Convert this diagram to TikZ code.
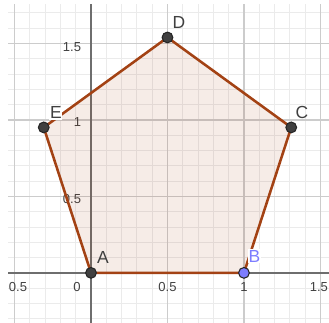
\documentclass[tikz,border=0pt]{standalone}
\usepackage{fontspec}
\setmainfont{Liberation Sans}
\usetikzlibrary{calc}
\definecolor{polybrown}{RGB}{163,66,20}
\definecolor{ptgray}{RGB}{64,64,64}
\definecolor{ptblue}{RGB}{125,125,255}
\definecolor{axgray}{RGB}{110,110,110}
\definecolor{txtgray}{RGB}{64,64,64}

\begin{document}
\begin{tikzpicture}[x=4cm,y=4cm,
  minorgrid/.style={draw=black!8,line width=0.6pt},
  majorgrid/.style={draw=black!20,line width=1pt},
  axisline/.style={draw=axgray,line width=1.1pt},
  pt/.style={circle,draw=black!85,line width=0.8pt,fill=ptgray,minimum size=8pt,inner sep=0pt},
  ptlabel/.style={text=txtgray,font=\fontsize{13}{15}\selectfont,inner sep=0.5pt},
  halo/.style={fill=white},
  ticklabel/.style={text=txtgray,font=\fontsize{9.7}{11}\selectfont,inner sep=0pt}]
  \useasboundingbox (-0.595,-0.327) rectangle (1.556,1.784);
  \begin{scope}
    \clip (-0.542,-0.327) rectangle (1.556,1.752);
    \draw[minorgrid,step=0.1] (-0.6,-0.4) grid (1.6,1.8);
    \draw[majorgrid,step=0.5] (-1,-0.5) grid (2,2);
    \draw[axisline] (-0.6,0) -- (1.6,0);
    \draw[axisline] (0,-0.4) -- (0,1.8);
  \end{scope}
  \node[ticklabel] (xm) at (-0.477,-0.092) {0.5};
  \node[ticklabel] (org) at (-0.092,-0.092) {0};
  \node[ticklabel] (xa) at (0.5,-0.092) {0.5};
  \node[ticklabel] (xb) at (1,-0.092) {1};
  \node[ticklabel] (xc) at (1.49,-0.092) {1.5};
  \node[ticklabel,anchor=east] (ya) at (-0.063,0.485) {0.5};
  \node[ticklabel,anchor=east] (yb) at (-0.063,0.985) {1};
  \node[ticklabel,anchor=east] (yc) at (-0.063,1.477) {1.5};

  \coordinate (A) at (0,0);
  \coordinate (B) at (1,0);
  \coordinate (C) at (1.309,0.951);
  \coordinate (D) at (0.5,1.539);
  \coordinate (E) at (-0.309,0.951);
  \filldraw[draw=polybrown,line width=1.9pt,fill=polybrown,fill opacity=0.1,line join=round]
    (A) -- (B) -- (C) -- (D) -- (E) -- cycle;

  \node[ptlabel] (lA) at ($(A)+(0.078,0.1)$) {A};
  \node[ptlabel,halo,text=ptblue] (lB) at ($(B)+(0.068,0.11)$) {B};
  \node[ptlabel] (lC) at ($(C)+(0.07,0.095)$) {C};
  \node[ptlabel] (lD) at ($(D)+(0.075,0.095)$) {D};
  \node[ptlabel,halo] (lE) at ($(E)+(0.08,0.095)$) {E};

  \node[pt] (pA) at (A) {};
  \node[pt,fill=ptblue] (pB) at (B) {};
  \node[pt] (pC) at (C) {};
  \node[pt] (pD) at (D) {};
  \node[pt] (pE) at (E) {};
\end{tikzpicture}
\end{document}
